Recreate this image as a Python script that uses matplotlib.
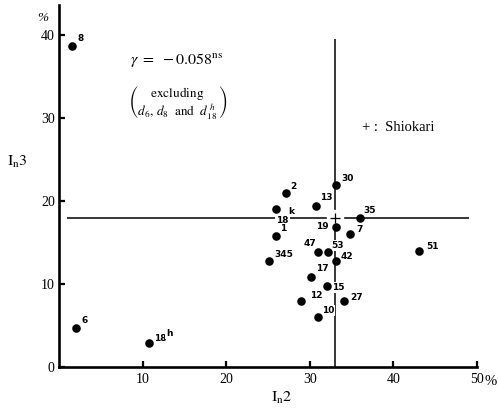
import matplotlib.pyplot as plt

plt.rcParams["mathtext.fontset"] = "stix"

# point data: (In2 %, In3 %)
names = ["8", "30", "2", "13", "18k", "35", "19", "1", "7", "47", "53", "42",
         "345", "51", "17", "15", "12", "27", "10", "6", "18h"]
in2 = [1.5, 33.1, 27.1, 30.7, 26.0, 36.0, 33.1, 25.9, 34.8, 31.0, 32.2, 33.1,
       25.1, 43.1, 30.1, 32.1, 28.9, 34.1, 31.0, 2.0, 10.8]
in3 = [38.7, 21.9, 20.9, 19.4, 19.0, 17.9, 16.9, 15.8, 16.0, 13.9, 13.9, 12.8,
       12.8, 14.0, 10.9, 9.8, 7.9, 7.9, 6.0, 4.7, 2.9]

# Shiokari reference
shio_x, shio_y = 33.0, 18.0

xticks = [10, 20, 30, 40, 50]
yticks = [0, 10, 20, 30, 40]

# label placement (pixel offsets, horizontal alignment)
label_pos = {
    "8": (6, 7, "left"), "30": (6, 7, "left"), "2": (5, 7, "left"),
    "13": (4, 8, "left"), "35": (3, 8, "left"), "19": (-7, 0, "right"),
    "1": (5, 7, "left"), "7": (6, 5, "left"), "47": (-2, 8, "right"),
    "53": (3, 6, "left"), "42": (5, 4, "left"), "345": (6, 6, "left"),
    "51": (7, 4, "left"), "17": (5, 8, "left"), "15": (5, -2, "left"),
    "12": (9, 6, "left"), "27": (6, 4, "left"), "10": (4, 7, "left"),
    "6": (6, 7, "left"),
}

fig = plt.figure(figsize=(4.98, 4.08), dpi=100)
ax = fig.add_axes([59 / 498, 41 / 408, 418 / 498, 362 / 408])
ax.set_xlim(0, 50)
ax.set_ylim(0, 43.6)

for s in ["top", "right"]:
    ax.spines[s].set_visible(False)
for s in ["left", "bottom"]:
    ax.spines[s].set_linewidth(1.9)

serif = "Liberation Serif"
ax.set_xticks(xticks)
ax.set_xticklabels([str(t) for t in xticks], family=serif, fontsize=10)
ax.set_yticks(yticks)
ax.set_yticklabels([str(t) for t in yticks], family=serif, fontsize=10)
ax.tick_params(axis="both", direction="in", length=4, width=1.6)
ax.tick_params(axis="x", pad=4)
ax.tick_params(axis="y", pad=3)

# cross lines through Shiokari
ax.vlines(shio_x, 0, 39.5, color="black", lw=1.1, zorder=2)
ax.hlines(shio_y, 1, 49, color="black", lw=1.1, zorder=2)
ax.plot(shio_x, shio_y, marker="s", ms=11, color="white", ls="none", zorder=3)
ax.plot(shio_x, shio_y, marker="+", ms=7, mew=0.9, color="black", ls="none", zorder=4)

ax.scatter(in2, in3, s=38, color="black", zorder=5, linewidths=0)

lab = dict(fontsize=6.5, fontweight="bold", family="DejaVu Sans", va="center",
           textcoords="offset pixels", zorder=3,
           bbox=dict(boxstyle="square,pad=0.1", fc="white", ec="none"))
for n, x, y in zip(names, in2, in3):
    if n in label_pos:
        dx, dy, ha = label_pos[n]
        ax.annotate(n, (x, y), xytext=(dx, dy), ha=ha, **lab)
    elif n == "18k":
        ax.annotate("18", (x, y), xytext=(0, -11), ha="left", **lab)
        ax.annotate("k", (x, y), xytext=(12, -2), ha="left", **lab)
    elif n == "18h":
        ax.annotate("18", (x, y), xytext=(5, 4), ha="left", **lab)
        ax.annotate("h", (x, y), xytext=(17, 9), ha="left", **lab)

# annotations
ax.text(8.5, 37.0, r"$\gamma\ =\ -0.058^{\mathrm{ns}}$", fontsize=11.5,
        va="center", ha="left")
ax.text(8.3, 31.9,
        r"$\genfrac{(}{)}{0}{0}{\mathrm{excluding}}{d_6,\,d_8\ \ \mathrm{and}\ \ d_{18}^{\,h}}$",
        fontsize=9.5, va="center", ha="left")
ax.text(36.3, 28.8, "+ :  Shiokari", family=serif, fontsize=10.5, va="center",
        ha="left")
ax.text(-1.9, 42.0, "%", family=serif, style="italic", fontsize=9.5,
        va="center", ha="center", clip_on=False)
ax.text(50.95, -1.8, "%", family=serif, fontsize=10.5, va="center", ha="left",
        clip_on=False)

fig.text(17 / 498, 1 - 162 / 408, r"$\mathrm{I_n3}$", fontsize=11.5,
         ha="center", va="center")
fig.text(282 / 498, 1 - 398 / 408, r"$\mathrm{I_n2}$", fontsize=11.5,
         ha="center", va="center")

fig.savefig("out.png", dpi=100)
